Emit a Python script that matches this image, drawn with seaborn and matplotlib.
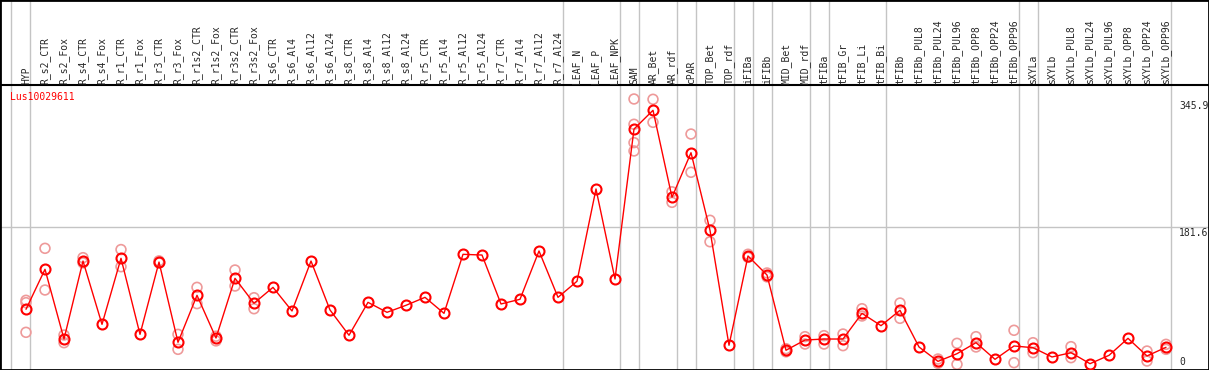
#!/usr/bin/env python3
"""Expression profile of one gene across sample groups (eFP-style strip)."""

import matplotlib

matplotlib.use("Agg")
import matplotlib.pyplot as plt
import matplotlib.transforms as mtransforms
import pandas as pd
import seaborn as sns

GENE = "Lus10029611"

SAMPLES = [
    "HYP", "R_s2_CTR", "R_s2_Fox", "R_s4_CTR", "R_s4_Fox", "R_r1_CTR", "R_r1_Fox",
    "R_r3_CTR", "R_r3_Fox", "R_r1s2_CTR", "R_r1s2_Fox", "R_r3s2_CTR", "R_r3s2_Fox",
    "R_s6_CTR", "R_s6_Al4", "R_s6_Al12", "R_s6_Al24", "R_s8_CTR", "R_s8_Al4",
    "R_s8_Al12", "R_s8_Al24", "R_r5_CTR", "R_r5_Al4", "R_r5_Al12", "R_r5_Al24",
    "R_r7_CTR", "R_r7_Al4", "R_r7_Al12", "R_r7_Al24", "LEAF_N", "LEAF_P", "LEAF_NPK",
    "SAM", "AR_Bet", "AR_rdf", "cPAR", "TOP_Bet", "TOP_rdf", "iFIBa", "iFIBb",
    "MID_Bet", "MID_rdf", "tFIBa", "tFIB_Gr", "tFIB_Li", "tFIB_Bi", "tFIBb",
    "tFIBb_PUL8", "tFIBb_PUL24", "tFIBb_PUL96", "tFIBb_OPP8", "tFIBb_OPP24",
    "tFIBb_OPP96", "sXYLa", "sXYLb", "sXYLb_PUL8", "sXYLb_PUL24", "sXYLb_PUL96",
    "sXYLb_OPP8", "sXYLb_OPP24", "sXYLb_OPP96",
]

MEAN_EXPR = [
    76.5, 127.7, 38.4, 138.3, 57.2, 141.8, 44.4, 137.0, 34.2, 94.4, 39.7, 116.2, 84.2,
    104.6, 74.3, 138.3, 75.6, 43.2, 85.4, 72.6, 81.6, 91.8, 71.3, 146.9, 146.0,
    83.3, 89.3, 151.2, 91.8, 112.4, 230.6, 115.3,
    307.4, 331.4, 220.0, 277.1, 177.6, 30.4, 144.8, 120.4,
    24.0, 37.1, 38.4, 38.4, 71.3, 55.5, 75.2,
    28.2, 9.8, 19.6, 33.7, 12.4, 29.5,
    27.3, 15.4, 20.9, 6.8, 17.5, 39.3, 16.7, 27.8,
]

# individual replicates (only where they show apart from the mean)
REP_EXPR = [
    [88.0, 85.0, 47.0], [154.6, 101.2], [43.5, 33.7], [142.6, 136.0], [],
    [153.0, 131.0], [], [138.5, 136.0], [44.4, 25.2], [104.6, 83.7], [42.0, 36.0],
    [126.8, 106.3], [91.3, 77.2],
    [], [], [], [], [], [], [], [], [], [], [], [], [], [], [], [], [], [], [],
    [345.9, 313.5, 290.0, 279.3], [345.5, 316.0], [227.0, 213.5], [301.0, 252.0],
    [190.5, 163.0], [], [147.0, 143.0], [123.0, 118.0],
    [26.0, 22.0], [41.4, 32.0], [42.7, 32.0], [44.8, 29.9], [77.2, 67.9], [],
    [84.5, 64.9],
    [], [12.8, 7.3], [32.9, 6.0], [41.4, 28.2], [], [49.6, 8.1],
    [33.7, 20.9], [], [28.6, 14.5], [], [], [], [23.0, 10.2], [31.6, 25.2],
]

# sample index before which a grey separator is drawn
GROUP_BREAKS = [0, 1, 29, 32, 33, 35, 36, 38, 39, 40, 42, 43, 46, 53, 54, 61]

Y_MAX = 345.9
Y_MID = 181.6


def main():
    mean_df = pd.DataFrame({"pos": range(len(SAMPLES)), "expr": MEAN_EXPR})
    rep_df = pd.DataFrame(
        [(i, v) for i, reps in enumerate(REP_EXPR) for v in reps],
        columns=["pos", "expr"],
    )

    sns.set_style("white")
    plt.rcParams["font.family"] = ["DejaVu Sans Mono"]
    plt.rcParams["font.size"] = 7

    fig = plt.figure(figsize=(12.09, 3.70), dpi=100)
    ax = fig.add_axes([0, 0, 1, 1])
    ax.set_xlim(-26 / 19, (1209 - 26) / 19)
    ax.set_ylim(-1.28, 472.7)

    grid_col = "#c4c4c4"
    for b in GROUP_BREAKS:
        ax.axvline(b - 14.5 / 19, color=grid_col, lw=1, zorder=0)
    ax.axhline(Y_MID, color=grid_col, lw=1, zorder=0)

    header_y = 285 / 370
    ax.axhline(header_y * 472.7 + (1 - header_y) * -1.28, color="black", lw=1.5)

    sns.scatterplot(data=rep_df, x="pos", y="expr", ax=ax, marker="o", s=50,
                    fc="none", ec="#ee9a9a", linewidth=1.2, zorder=2, legend=False)
    sns.lineplot(data=mean_df, x="pos", y="expr", ax=ax, color="red", lw=1,
                 marker="o", markersize=7.2, markerfacecolor="none",
                 markeredgecolor="red", markeredgewidth=1.5,
                 estimator=None, sort=False, zorder=3)

    trans = mtransforms.blended_transform_factory(ax.transData, ax.transAxes)
    for i, name in enumerate(SAMPLES):
        ax.text(i, (370 - 84) / 370, name, rotation=90, ha="center", va="bottom",
                transform=trans)

    ax.text(-16 / 19, (370 - 97) / 370, GENE, color="red", ha="left", va="center",
            transform=trans)

    x_lab = (1179 - 26) / 19
    ax.text(x_lab, Y_MAX - 3, f"{Y_MAX}", ha="left", va="top")
    ax.text(x_lab, Y_MID - 1.5, f"{Y_MID}", ha="left", va="top")
    ax.text(x_lab, 2, "0", ha="left", va="bottom")

    ax.set_xticks([])
    ax.set_yticks([])
    ax.set_xlabel("")
    ax.set_ylabel("")
    for sp in ax.spines.values():
        sp.set_visible(True)
        sp.set_color("black")
        sp.set_linewidth(2)

    fig.savefig("out.png", dpi=100)
    print("Saved out.png")


if __name__ == "__main__":
    main()
